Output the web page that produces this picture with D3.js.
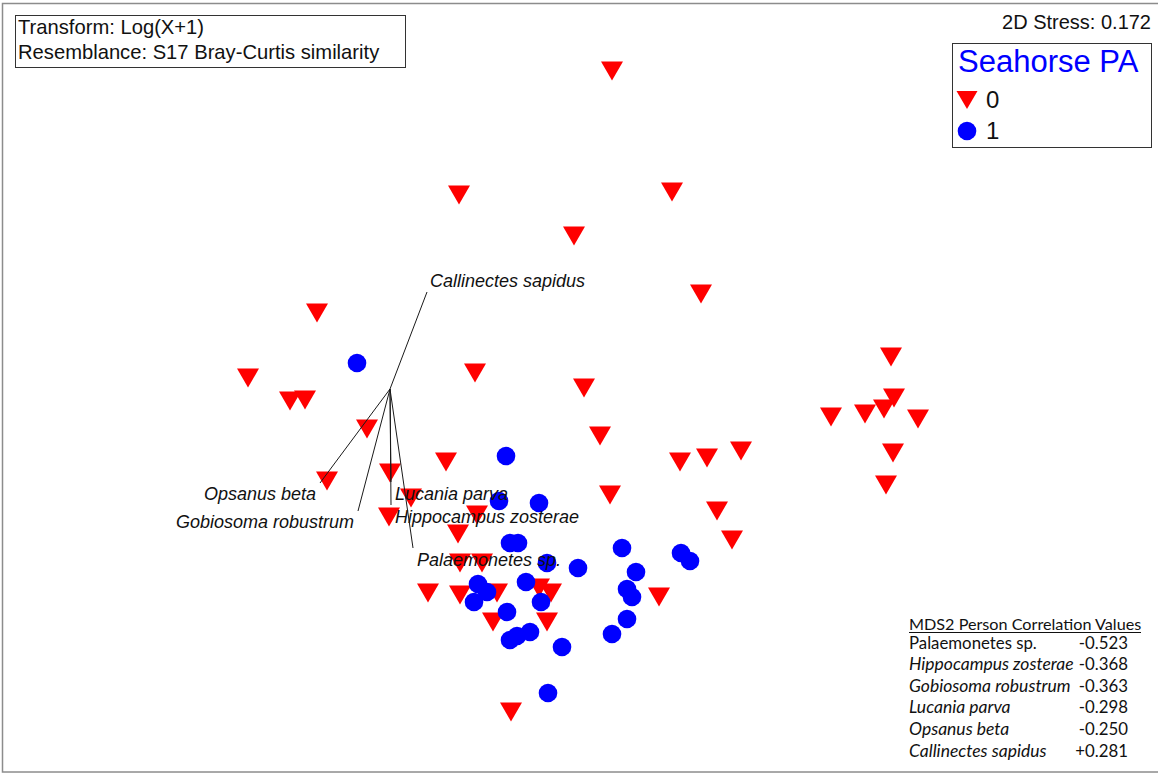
<!DOCTYPE html>
<html>
<head>
<meta charset="utf-8">
<script src="https://cdn.jsdelivr.net/npm/d3@7"></script>
<style>
  html, body { margin: 0; padding: 0; background: #fff; }
  svg { display: block; }
</style>
</head>
<body>
<div id="chart"></div>
<script>
// ---------------- DATA (nMDS coordinates, arbitrary units) ----------------
const legendTitle = "Seahorse PA";
const groupLabels = ["0", "1"];
const stressText = "2D Stress: 0.172";
const infoLines = ["Transform: Log(X+1)", "Resemblance: S17 Bray-Curtis similarity"];

// Seahorse PA = 0 (red down-triangles): [MDS1, MDS2]
const absentPoints = [
  [0.32, 3.19], [-1.21, 1.95], [0.92, 1.98], [-0.06, 1.54], [1.21, 0.96],
  [-2.63, 0.77], [-3.32, 0.12], [-2.90, -0.11], [-2.75, -0.10], [-1.05, 0.17],
  [0.04, 0.02], [-2.13, -0.39], [0.20, -0.46], [-1.34, -0.72], [-2.53, -0.91],
  [-1.90, -0.83], [-1.69, -1.08], [-1.91, -1.27], [-1.03, -1.25], [-1.22, -1.44],
  [-1.20, -1.73], [-0.98, -1.73], [-1.52, -2.03], [-1.20, -2.05], [-0.83, -2.03],
  [-0.41, -1.98], [-0.29, -2.03], [-0.87, -2.32], [-0.33, -2.32], [-0.69, -3.22],
  [0.30, -1.05], [1.00, -0.72], [1.27, -0.68], [1.61, -0.61], [1.37, -1.21],
  [1.52, -1.50], [0.79, -2.07],
  [3.11, 0.33], [3.14, -0.08], [3.04, -0.19], [2.85, -0.24], [2.51, -0.27],
  [3.38, -0.29], [3.13, -0.63], [3.06, -0.95]
];
// Seahorse PA = 1 (blue circles)
const presentPoints = [
  [-2.23, 0.27], [-0.74, -0.66], [-0.81, -1.11], [-0.41, -1.13], [-0.70, -1.53],
  [-0.62, -1.53], [0.42, -1.58], [1.01, -1.63], [1.10, -1.71], [-0.33, -1.73],
  [-0.02, -1.78], [0.56, -1.82], [-0.54, -1.92], [-1.02, -1.94], [-0.93, -2.02],
  [0.47, -1.99], [0.52, -2.07], [-1.06, -2.12], [-0.39, -2.12], [-0.73, -2.22],
  [0.47, -2.29], [0.32, -2.44], [-0.50, -2.42], [-0.63, -2.46], [-0.70, -2.50],
  [-0.18, -2.57], [-0.32, -3.03]
];

// Species vectors (from a common origin)
const vectorOrigin = [-1.90, 0.01];
const vectorSpecies = ["Callinectes sapidus", "Opsanus beta", "Gobiosoma robustrum",
                       "Lucania parva", "Hippocampus zosterae", "Palaemonetes sp."];
const vectorEnds = [[-1.53, 0.98], [-2.60, -0.93], [-2.22, -1.21],
                    [-1.89, -0.92], [-1.89, -1.15], [-1.67, -1.58]];

// Correlation table
const tableTitle = "MDS2 Person Correlation Values";
const corrSpecies = ["Palaemonetes sp.", "Hippocampus zosterae", "Gobiosoma robustrum",
                     "Lucania parva", "Opsanus beta", "Callinectes sapidus"];
const corrValues = ["-0.523", "-0.368", "-0.363", "-0.298", "-0.250", "+0.281"];
const corrItalic = [false, true, true, true, true, true];

// ---------------- DRAWING ----------------
const W = 1158, H = 775;
const RED = "#ff0000", BLUE = "#0000ff";
const FONT = "'Liberation Sans', Arial, sans-serif";
const TFONT = "Lato, 'Open Sans', sans-serif";

const svg = d3.select("#chart").append("svg")
  .attr("width", W).attr("height", H);

const x = d3.scaleLinear().domain([-3, 3]).range([280, 880]);
const y = d3.scaleLinear().domain([-3, 3]).range([690, 90]);

// outer frame
svg.append("rect").attr("x", 2.5).attr("y", 3.5).attr("width", W + 10).attr("height", 768.5)
  .attr("fill", "none").attr("stroke", "#8c8c8c").attr("stroke-width", 1.5);

const triPath = (cx, cy, w, h) =>
  `M${cx - w / 2},${cy - h / 2}L${cx + w / 2},${cy - h / 2}L${cx},${cy + h / 2}Z`;

// points
svg.append("g").selectAll("path").data(absentPoints).join("path")
  .attr("d", d => triPath(x(d[0]), y(d[1]), 22, 19))
  .attr("fill", RED);

svg.append("g").selectAll("circle").data(presentPoints).join("circle")
  .attr("cx", d => x(d[0])).attr("cy", d => y(d[1])).attr("r", 9.3)
  .attr("fill", BLUE);

// vectors
const vg = svg.append("g");
const ox = x(vectorOrigin[0]), oy = y(vectorOrigin[1]);
vectorEnds.forEach((e, i) => {
  const ex = x(e[0]), ey = y(e[1]);
  vg.append("line").attr("x1", ox).attr("y1", oy).attr("x2", ex).attr("y2", ey)
    .attr("stroke", "#1a1a1a").attr("stroke-width", 1);
  let tx, ty, anchor;
  if (ey < oy) { tx = ex + 3; ty = ey - 5; anchor = "start"; }
  else if (ex < ox - 5) { tx = ex - 4; ty = ey + 17; anchor = "end"; }
  else { tx = ex + 4; ty = ey + 18; anchor = "start"; }
  vg.append("text").attr("x", tx).attr("y", ty).attr("text-anchor", anchor)
    .attr("font-family", FONT).attr("font-style", "italic").attr("font-size", 18)
    .attr("fill", "#111").text(vectorSpecies[i]);
});

// info box
svg.append("rect").attr("x", 15.5).attr("y", 15.5).attr("width", 390).attr("height", 52)
  .attr("fill", "#fff").attr("stroke", "#333").attr("stroke-width", 1);
infoLines.forEach((t, i) => {
  svg.append("text").attr("x", 18).attr("y", 34 + i * 25)
    .attr("font-family", FONT).attr("font-size", 20.2).attr("fill", "#111").text(t);
});

// stress
svg.append("text").attr("x", 1151).attr("y", 29).attr("text-anchor", "end")
  .attr("font-family", FONT).attr("font-size", 20).attr("fill", "#111").text(stressText);

// legend
const lg = svg.append("g");
lg.append("rect").attr("x", 952.5).attr("y", 43.5).attr("width", 199).attr("height", 104)
  .attr("fill", "#fff").attr("stroke", "#333").attr("stroke-width", 1);
lg.append("text").attr("x", 958).attr("y", 72).attr("font-family", FONT)
  .attr("font-size", 31).attr("fill", BLUE).text(legendTitle);
groupLabels.forEach((g, i) => {
  const cy = 100 + i * 31;
  if (i === 0) lg.append("path").attr("d", triPath(967, cy, 21, 18)).attr("fill", RED);
  else lg.append("circle").attr("cx", 967).attr("cy", cy).attr("r", 9.3).attr("fill", BLUE);
  lg.append("text").attr("x", 986).attr("y", cy + 8).attr("font-family", FONT)
    .attr("font-size", 24).attr("fill", "#111").text(g);
});

// correlation table
const tg = svg.append("g");
tg.append("text").attr("x", 909).attr("y", 630).attr("font-family", TFONT)
  .attr("font-size", 16.2).attr("fill", "#111").text(tableTitle);
tg.append("line").attr("x1", 909).attr("x2", 1141).attr("y1", 632.5).attr("y2", 632.5)
  .attr("stroke", "#111").attr("stroke-width", 1);
corrSpecies.forEach((s, i) => {
  const by = 648.5 + i * 21.6;
  tg.append("text").attr("x", 909).attr("y", by).attr("font-family", TFONT)
    .attr("font-size", corrItalic[i] ? 17.5 : 16.8)
    .attr("font-style", corrItalic[i] ? "italic" : "normal")
    .attr("fill", "#111").text(s);
  tg.append("text").attr("x", 1128).attr("y", by).attr("text-anchor", "end")
    .attr("font-family", TFONT).attr("font-size", 16.8).attr("fill", "#111").text(corrValues[i]);
});
</script>
</body>
</html>
